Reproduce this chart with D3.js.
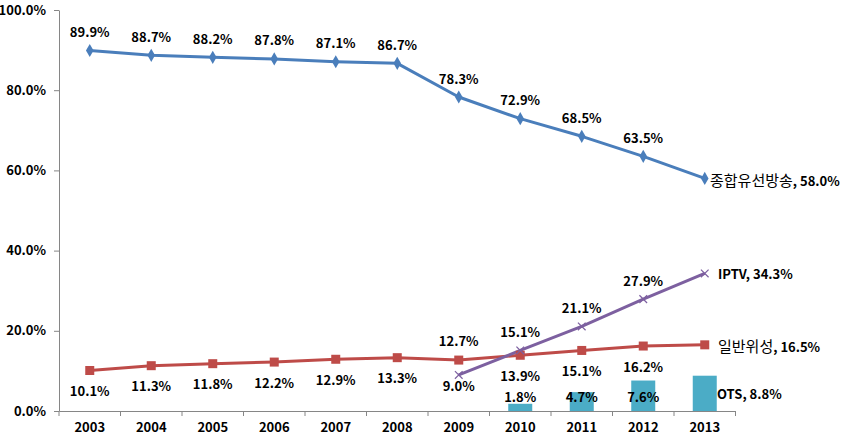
<!DOCTYPE html>
<html><head><meta charset="utf-8">
<script src="https://cdn.jsdelivr.net/npm/d3@7"></script>
<style>
body{margin:0;background:#fff;}
text{font-family:"Noto Sans CJK KR","Noto Sans",sans-serif;}
</style></head>
<body><svg id="c" width="846" height="447"></svg>
<script>
const years = ["2003","2004","2005","2006","2007","2008","2009","2010","2011","2012","2013"];
const cable = [89.9,88.7,88.2,87.8,87.1,86.7,78.3,72.9,68.5,63.5,58.0];
const satellite = [10.1,11.3,11.8,12.2,12.9,13.3,12.7,13.9,15.1,16.2,16.5];
const iptvYears = ["2009","2010","2011","2012","2013"];
const iptv = [9.0,15.1,21.1,27.9,34.3];
const otsYears = ["2010","2011","2012","2013"];
const ots = [1.8,4.7,7.6,8.8];
const yTicks = [0,20,40,60,80,100];
const seriesNames = {cable:"종합유선방송", sat:"일반위성", iptv:"IPTV", ots:"OTS"};

const svg = d3.select("#c");
const x = d3.scaleBand().domain(years).range([59,735.5]);
const y = d3.scaleLinear().domain([0,100]).range([411,10]);
const cx = d => x(d) + x.bandwidth()/2;
const fmt = v => v.toFixed(1) + "%";

// axes
const yAx = svg.append("g").attr("transform","translate(59,0)")
  .call(d3.axisLeft(y).tickValues(yTicks).tickFormat(d=>d.toFixed(1)+"%").tickSize(5).tickSizeOuter(0));
yAx.select(".domain").attr("stroke","#868686");
yAx.selectAll(".tick line").attr("stroke","#868686");
yAx.selectAll("text").attr("font-size",13).attr("font-weight","bold").attr("fill","#000").attr("x",-13);

const xAx = svg.append("g").attr("transform","translate(0,411)")
  .call(d3.axisBottom(x).tickSize(0).tickSizeOuter(0));
xAx.select(".domain").attr("stroke","#868686");
xAx.selectAll("text").attr("font-size",13).attr("font-weight","bold").attr("fill","#000").attr("dy","1.35em");
// boundary tick marks
svg.append("g").selectAll("line").data(years.concat(["end"])).join("line")
  .attr("x1",(d,i)=>59+i*x.bandwidth()).attr("x2",(d,i)=>59+i*x.bandwidth())
  .attr("y1",411).attr("y2",416).attr("stroke","#868686");

// OTS bars
const bw = 24;
svg.append("g").selectAll("rect").data(ots).join("rect")
  .attr("x",(d,i)=>cx(otsYears[i])-bw/2).attr("width",bw)
  .attr("y",d=>y(d)).attr("height",d=>y(0)-y(d)).attr("fill","#4bacc6");

const line = d3.line();
function drawLine(xs, vs, color){
  svg.append("path").attr("d", line(vs.map((v,i)=>[cx(xs[i]), y(v)])))
    .attr("fill","none").attr("stroke",color).attr("stroke-width",3).attr("stroke-linejoin","round");
}
drawLine(years, cable, "#4a7ebb");
drawLine(years, satellite, "#be4b48");
drawLine(iptvYears, iptv, "#7d60a0");

// markers
svg.append("g").selectAll("path").data(cable).join("path")
  .attr("d", d3.symbol(d3.symbolDiamond, 50))
  .attr("transform",(d,i)=>`translate(${cx(years[i])},${y(d)})`).attr("fill","#4a7ebb");
svg.append("g").selectAll("rect").data(satellite).join("rect")
  .attr("x",(d,i)=>cx(years[i])-4.5).attr("y",d=>y(d)-4.5).attr("width",9).attr("height",9).attr("fill","#be4b48");
svg.append("g").selectAll("path").data(iptv).join("path")
  .attr("d", d3.symbol(d3.symbolX, 40))
  .attr("transform",(d,i)=>`translate(${cx(iptvYears[i])},${y(d)})`).attr("fill","none").attr("stroke","#7d60a0").attr("stroke-width",1.2);

const lab = svg.append("g").attr("font-size",13).attr("font-weight","bold").attr("fill","#000").attr("text-anchor","middle");
function label(xp, yp, t){ lab.append("text").attr("x",xp).attr("y",yp).attr("dy","0.35em").text(t); }

// cable labels
cable.forEach((v,i)=>{ if(i<10) label(cx(years[i]), y(v)-18, fmt(v)); });
// satellite labels
satellite.forEach((v,i)=>{
  if(i===10) return;
  if(years[i]==="2009") label(cx(years[i]), y(v)-19, fmt(v));
  else label(cx(years[i]), y(v)+21, fmt(v));
});
// iptv labels
iptv.forEach((v,i)=>{
  if(i===4) return;
  if(i===0) label(cx(iptvYears[i]), y(v)+12, fmt(v));
  else label(cx(iptvYears[i]), y(v)-18, fmt(v));
});
// ots labels
ots.forEach((v,i)=>{ if(i<3) label(cx(otsYears[i]), y(0)-14, fmt(v)); });

// end series labels
function endLabel(xp, yp, name, v, nameBold){
  const t = svg.append("text").attr("x",xp).attr("y",yp).attr("dy","0.35em").attr("fill","#000");
  t.append("tspan").attr("font-size",nameBold?13:15).attr("font-weight",nameBold?"bold":"normal").text(name);
  t.append("tspan").attr("font-size",13).attr("font-weight","bold").text(", " + fmt(v));
}
endLabel(710, y(cable[10])+2, seriesNames.cable, cable[10], false);
endLabel(718, y(iptv[4]), seriesNames.iptv, iptv[4], true);
endLabel(718, y(satellite[10])+2, seriesNames.sat, satellite[10], false);
endLabel(717, 393, seriesNames.ots, ots[3], true);
</script></body></html>
